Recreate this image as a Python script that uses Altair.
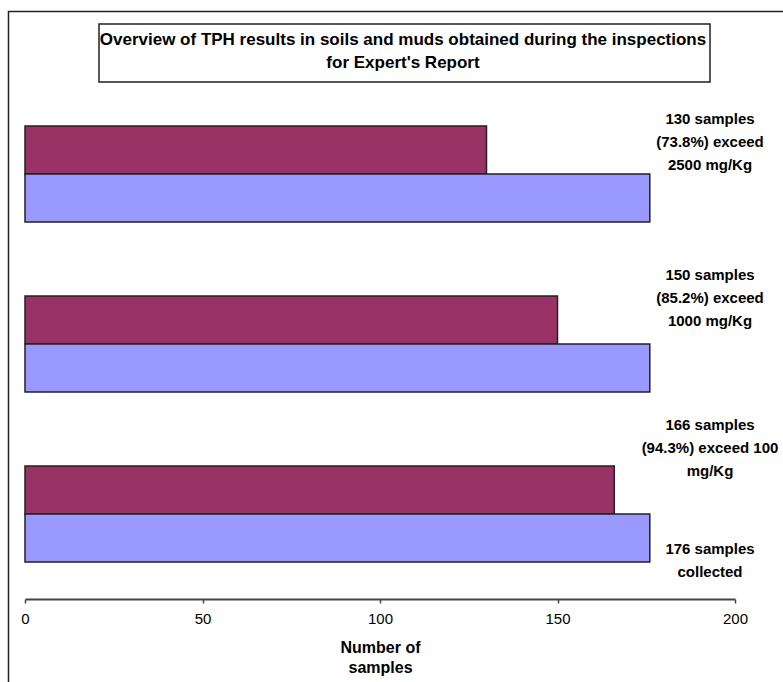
import altair as alt
import pandas as pd

# Concentration thresholds (one bar pair per threshold, top to bottom)
thresholds = ["2500 mg/Kg", "1000 mg/Kg", "100 mg/Kg"]
exceeding = [130, 150, 166]
collected = [176, 176, 176]
series_names = ["Exceeding", "Collected"]
series_colors = ["#993366", "#9999FF"]

label_lines = [
    ["130 samples", "(73.8%) exceed", "2500 mg/Kg"],
    ["150 samples", "(85.2%) exceed", "1000 mg/Kg"],
    ["166 samples", "(94.3%) exceed 100", "mg/Kg"],
]
collected_lines = ["176 samples", "collected"]
title_lines = [
    "Overview of TPH results in soils and muds obtained during the inspections",
    "for Expert's Report",
]
x_ticks = [0, 50, 100, 150, 200]

rows = []
for t, e, c in zip(thresholds, exceeding, collected):
    rows.append({"threshold": t, "series": series_names[0], "samples": e})
    rows.append({"threshold": t, "series": series_names[1], "samples": c})
df = pd.DataFrame(rows)

FONT = "Liberation Sans"
W, H = 710, 510

y_enc = alt.Y(
    "threshold:N",
    sort=thresholds,
    axis=None,
    scale=alt.Scale(paddingInner=0.435, paddingOuter=0.2175),
)

bars = alt.Chart(df).mark_bar(stroke="#222222", strokeWidth=1.5).encode(
    x=alt.X(
        "samples:Q",
        scale=alt.Scale(domain=[0, 200]),
        axis=alt.Axis(
            values=x_ticks,
            grid=False,
            domainColor="#444444",
            domainWidth=2,
            tickColor="#444444",
            tickWidth=1.5,
            tickSize=4,
            labelFont=FONT,
            labelFontSize=15,
            labelColor="#000000",
            labelPadding=8,
            labelFlush=False,
            title=["Number of", "samples"],
            titleFont=FONT,
            titleFontSize=16,
            titleFontWeight="bold",
            titleColor="#000000",
            titleLineHeight=20,
            titlePadding=13,
        ),
    ),
    y=y_enc,
    yOffset=alt.YOffset(
        "series:N",
        sort=series_names,
        scale=alt.Scale(paddingInner=0, paddingOuter=0),
    ),
    color=alt.Color(
        "series:N",
        sort=series_names,
        scale=alt.Scale(domain=series_names, range=series_colors),
        legend=None,
    ),
)

# Annotation blocks to the right of each bar pair
label_df = pd.DataFrame({"threshold": thresholds, "lines": label_lines})
label_offsets = [-55, -69, -89]
LABEL_STYLE = dict(
    font=FONT, fontSize=15, fontWeight="bold", color="#000000",
    align="center", baseline="middle", lineHeight=23,
)
LABEL_X = 685
label_layers = []
for t, dy in zip(thresholds, label_offsets):
    label_layers.append(
        alt.Chart(label_df)
        .transform_filter(alt.datum.threshold == t)
        .mark_text(dy=dy, **LABEL_STYLE)
        .encode(x=alt.value(LABEL_X), y=y_enc, text="lines:N")
    )

collected_df = pd.DataFrame({"threshold": [thresholds[-1]], "lines": [collected_lines]})
collected_label = (
    alt.Chart(collected_df)
    .mark_text(dy=35, **LABEL_STYLE)
    .encode(x=alt.value(LABEL_X), y=y_enc, text="lines:N")
)

# Boxed chart title
box_df = pd.DataFrame({"lines": [title_lines]})
title_box = alt.Chart(box_df).mark_rect(
    fill="white", stroke="#222222", strokeWidth=1.5
).encode(
    x=alt.value(74), x2=alt.value(685), y=alt.value(-65), y2=alt.value(-7)
)
title_text = alt.Chart(box_df).mark_text(
    font=FONT, fontSize=17, fontWeight="bold", color="#000000",
    align="center", baseline="middle", lineHeight=23,
).encode(x=alt.value(378), y=alt.value(-49), text="lines:N")

# Outer chart-area frame
frame = alt.Chart(box_df).mark_rect(
    fill=None, stroke="#222222", strokeWidth=1.5
).encode(
    x=alt.value(-16.5), x2=alt.value(800), y=alt.value(-77.5), y2=alt.value(700)
)

chart = (
    alt.layer(frame, title_box, title_text, bars, *label_layers, collected_label)
    .properties(
        width=W,
        height=H,
        padding={"left": 25, "top": 89, "right": 48, "bottom": 83},
        autosize=alt.AutoSizeParams(type="none"),
        background="white",
    )
    .configure_view(stroke=None)
)

chart.save("out.html", embed_options={"renderer": "svg", "actions": False})
